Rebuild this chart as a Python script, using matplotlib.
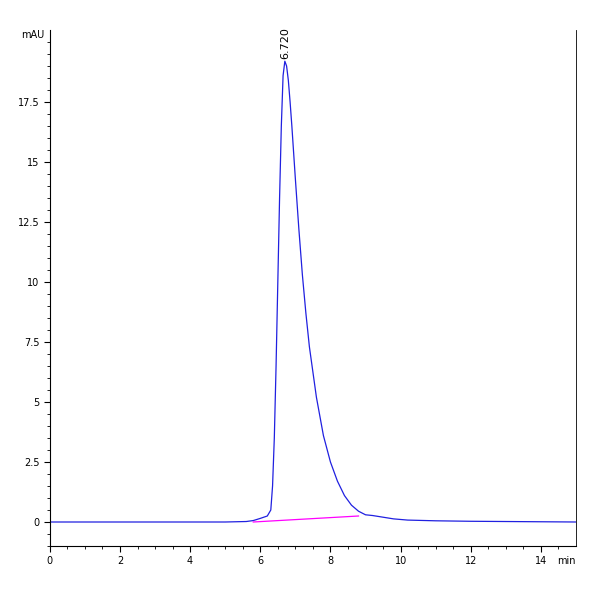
import matplotlib.pyplot as plt

# chromatogram points (min, mAU)
time = [0, 5.0, 5.6, 5.8, 6.0, 6.2, 6.3, 6.35, 6.4, 6.45, 6.5, 6.55, 6.6, 6.65, 6.7, 6.75,
        6.8, 6.85, 6.9, 7.0, 7.1, 7.2, 7.3, 7.4, 7.6, 7.8, 8.0, 8.2, 8.4, 8.6, 8.8,
        9.0, 9.2, 9.5, 9.8, 10.2, 11, 12, 13, 14, 15]
signal = [0, 0, 0.02, 0.06, 0.15, 0.25, 0.5, 1.5, 3.5, 6.5, 10.0, 13.5, 16.5, 18.6, 19.2, 19.0,
          18.4, 17.5, 16.5, 14.3, 12.2, 10.3, 8.7, 7.3, 5.2, 3.6, 2.5, 1.7, 1.1, 0.7, 0.45,
          0.3, 0.27, 0.2, 0.13, 0.08, 0.05, 0.03, 0.02, 0.01, 0.0]
base_t = [5.8, 8.8]
base_v = [0.0, 0.25]
peak_t, peak_v, peak_label = 6.72, 19.2, "6.720"

fig, ax = plt.subplots(figsize=(6, 6), dpi=100)
fig.subplots_adjust(left=0.083, right=0.96, bottom=0.09, top=0.95)
ax.plot(time, signal, color='#2020e0', lw=0.9)
ax.plot(base_t, base_v, color='#ff00ff', lw=0.9)
ax.text(peak_t, peak_v + 0.1, peak_label, rotation=90, ha='center', va='bottom', fontsize=8)

ax.set_xlim(0, 15)
ax.set_ylim(-1.0, 20.5)
ax.set_xticks(range(0, 15, 2))
ax.set_yticks([0, 2.5, 5, 7.5, 10, 12.5, 15, 17.5])
ax.set_yticklabels(['0', '2.5', '5', '7.5', '10', '12.5', '15', '17.5'])
ax.set_xticks([i * 0.5 for i in range(30)], minor=True)
ax.set_yticks([i * 0.5 for i in range(-2, 41)], minor=True)
ax.tick_params(labelsize=7, direction='out', length=4)
ax.tick_params(which='minor', length=2)
ax.spines['top'].set_visible(False)
ax.spines['right'].set_linewidth(0.6)
ax.text(-0.01, 1.0, 'mAU', transform=ax.transAxes, ha='right', va='top', fontsize=7)
ax.text(1.0, -0.02, 'min', transform=ax.transAxes, ha='right', va='top', fontsize=7)
plt.savefig('out.png')
